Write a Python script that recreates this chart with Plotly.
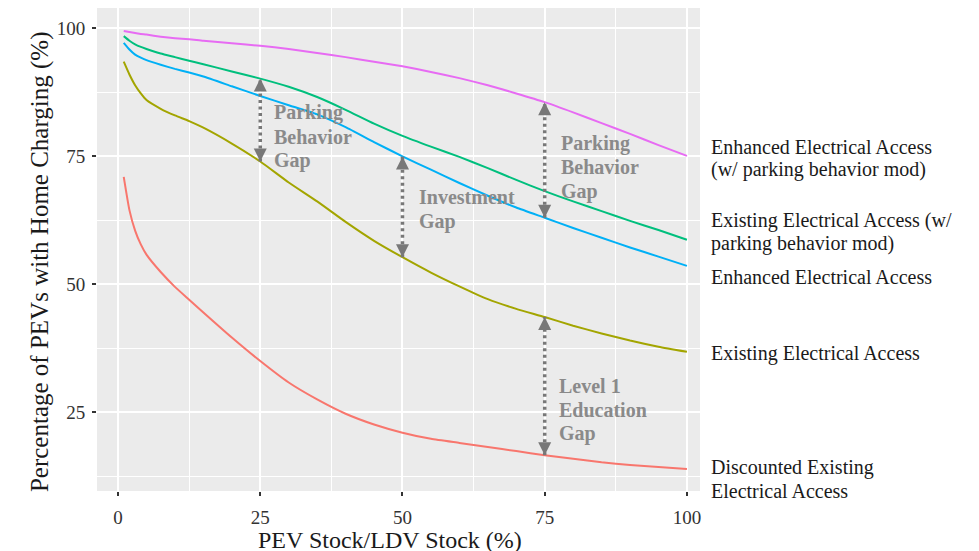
import numpy as np
import plotly.graph_objects as go

x_vals = [1, 2, 3, 4, 5, 7.5, 10, 12.5, 15, 20, 25, 30, 35, 40, 45, 50, 55, 60, 65, 70, 75, 80, 85, 90, 95, 100]

discounted_existing = [71.0, 64.5, 60.5, 57.8, 55.8, 52.4, 49.5, 47.0, 44.5, 39.6, 35.0, 30.8, 27.5, 24.7, 22.6, 21.0, 19.8, 19.0, 18.2, 17.4, 16.6, 15.9, 15.2, 14.7, 14.3, 13.9]
existing = [93.5, 91.0, 88.9, 87.3, 86.0, 84.3, 83.0, 81.9, 80.6, 77.5, 74.0, 69.9, 66.2, 62.2, 58.5, 55.3, 52.3, 49.6, 47.1, 45.2, 43.6, 41.9, 40.4, 39.0, 37.8, 36.8]
enhanced = [97.2, 95.9, 94.9, 94.3, 93.8, 92.9, 92.1, 91.4, 90.6, 88.7, 86.8, 85.0, 83.2, 80.7, 77.8, 75.0, 72.4, 69.8, 67.3, 65.0, 63.0, 61.0, 59.1, 57.2, 55.4, 53.6]
existing_mod = [98.5, 97.6, 96.9, 96.4, 96.0, 95.1, 94.4, 93.7, 93.0, 91.6, 90.2, 88.6, 86.6, 84.1, 81.4, 79.0, 76.9, 74.9, 72.7, 70.4, 68.2, 66.2, 64.3, 62.4, 60.6, 58.7]
enhanced_mod = [99.5, 99.3, 99.1, 98.9, 98.8, 98.4, 98.1, 97.9, 97.6, 97.1, 96.6, 96.0, 95.2, 94.4, 93.5, 92.6, 91.5, 90.3, 88.9, 87.3, 85.6, 83.6, 81.5, 79.4, 77.2, 75.1]

series_names = [
    ["Discounted Existing", "Electrical Access"],
    ["Existing Electrical Access"],
    ["Enhanced Electrical Access"],
    ["Existing Electrical Access (w/", "parking behavior mod)"],
    ["Enhanced Electrical Access", "(w/ parking behavior mod)"],
]
series_values = [discounted_existing, existing, enhanced, existing_mod, enhanced_mod]
series_colors = ["#F8766D", "#A3A500", "#00B0F6", "#00BF7D", "#E76BF3"]

x_ticks = [0, 25, 50, 75, 100]
y_ticks = [25, 50, 75, 100]

# gaps: (x, lower series index, upper series index, label lines)
gaps = [
    (25, 1, 3, ["Parking", "Behavior", "Gap"]),
    (50, 1, 2, ["Investment", "Gap"]),
    (75, 2, 4, ["Parking", "Behavior", "Gap"]),
    (75, 0, 1, ["Level 1", "Education", "Gap"]),
]

SERIF = "Liberation Serif, Times New Roman, serif"
GAP_COLOR = "#787878"
TEXT_GAP = "#8a8a8a"


def add_lines(fig, lines, spacing, **kw):
    n = len(lines)
    for i, ln in enumerate(lines):
        fig.add_annotation(text=ln, yshift=((n - 1) / 2 - i) * spacing, showarrow=False,
                           xanchor="left", yanchor="middle", align="left", **kw)


fig = go.Figure()
for name, vals, col in zip(series_names, series_values, series_colors):
    fig.add_trace(go.Scatter(x=x_vals, y=vals, mode="lines", name=" ".join(name),
                             line=dict(color=col, width=2, shape="spline", smoothing=0.5),
                             showlegend=False, hoverinfo="skip"))

gap_label_pos = [(27.1, 78.8), (52.5, 64.7), (77.6, 72.9), (77.1, 25.5)]
for (gx, lo, hi, lines), (tx, ty) in zip(gaps, gap_label_pos):
    ylo = float(np.interp(gx, x_vals, series_values[lo]))
    yhi = float(np.interp(gx, x_vals, series_values[hi]))
    fig.add_trace(go.Scatter(x=[gx, gx], y=[ylo, yhi], mode="lines",
                             line=dict(color=GAP_COLOR, width=3.5, dash="3px,3.5px"),
                             showlegend=False, hoverinfo="skip"))
    fig.add_trace(go.Scatter(x=[gx, gx], y=[yhi, ylo], mode="markers",
                             marker=dict(symbol=["arrow-up", "arrow-down"], size=13,
                                         color=GAP_COLOR, line=dict(width=0)),
                             showlegend=False, hoverinfo="skip"))
    add_lines(fig, ["<b>" + l + "</b>" for l in lines], 24, x=tx, y=ty, xref="x", yref="y",
              font=dict(family=SERIF, size=20, color=TEXT_GAP))

# right-hand series labels
label_y = [11.9, 36.5, 51.5, 60.3, 74.6]
for lines, ly in zip(series_names, label_y):
    add_lines(fig, lines, 23, x=1.0, xref="paper", xshift=9, y=ly, yref="y",
              font=dict(family=SERIF, size=20, color="#1a1a1a"))

# axis titles
fig.add_annotation(x=0.486, xref="paper", y=0, yref="paper", yshift=-49,
                   text="PEV Stock/LDV Stock (%)", showarrow=False,
                   xanchor="center", yanchor="middle",
                   font=dict(family=SERIF, size=24, color="#1a1a1a"))
fig.add_annotation(x=0, xref="paper", xshift=-57, y=0.474, yref="paper",
                   text="Percentage of PEVs with Home Charging (%)", showarrow=False,
                   textangle=-90, xanchor="center", yanchor="middle",
                   font=dict(family=SERIF, size=25, color="#1a1a1a"))

axis_common = dict(showgrid=True, gridcolor="white", gridwidth=1.6, zeroline=False,
                   ticks="outside", ticklen=4, tickwidth=1.5, tickcolor="#333333",
                   showline=False, tickfont=dict(family=SERIF, size=19, color="#333333"),
                   minor=dict(dtick=12.5, tick0=0, showgrid=True, gridcolor="white",
                              gridwidth=0.7, ticks=""))

# the page body adds an 8px margin, so the figure is sized/offset to compensate
fig.update_layout(
    width=971, height=543,
    margin=dict(l=89, r=279, t=0, b=60, autoexpand=False),
    paper_bgcolor="white", plot_bgcolor="#EBEBEB",
    xaxis=dict(range=[-3.7, 102.3], tickmode="array", tickvals=x_ticks,
               ticklabelstandoff=5, automargin=False, **axis_common),
    yaxis=dict(range=[9.6, 104], tickmode="array", tickvals=y_ticks,
               ticklabelstandoff=3, automargin=False, **axis_common),
)

fig.write_html("out.html")
